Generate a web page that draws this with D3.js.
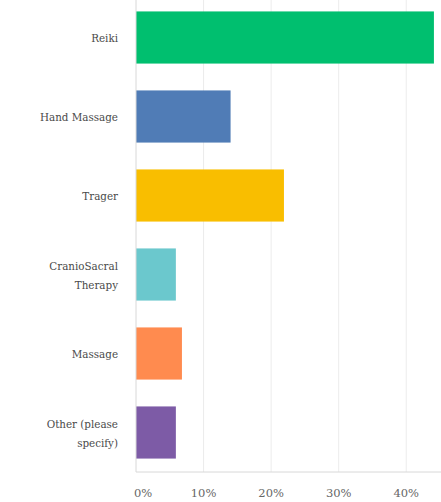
<!DOCTYPE html>
<html>
<head>
<meta charset="utf-8">
<script src="https://cdn.jsdelivr.net/npm/d3@7"></script>
<style>
  body { margin: 0; background: #fff; }
</style>
</head>
<body>
<div id="chart"></div>
<script>
var categories = ["Reiki", "Hand Massage", "Trager", "CranioSacral Therapy", "Massage", "Other (please specify)"];
var labelLines = [["Reiki"], ["Hand Massage"], ["Trager"], ["CranioSacral", "Therapy"], ["Massage"], ["Other (please", "specify)"]];
var values = [44.1, 14.0, 21.9, 5.9, 6.8, 5.9];
var colors = ["#00bf6f", "#507cb6", "#f9be00", "#6bc8cd", "#ff8b4f", "#7d5ba6"];
var ticks = [0, 10, 20, 30, 40];

var serifCond = "'DejaVu Serif Condensed', 'DejaVu Serif'";
var serif = "'DejaVu Serif'";
var w = 441, h = 502;
var svg = d3.select("#chart").append("svg").attr("width", w).attr("height", h);

var x = d3.scaleLinear().domain([0, 45]).range([136, 440]);
var y = d3.scaleBand().domain(categories).range([-2, 472]).paddingInner(0.34).paddingOuter(0.17);

// grid lines
svg.append("g").selectAll("line")
  .data(ticks.slice(1))
  .enter().append("line")
  .attr("x1", function(d) { return x(d); })
  .attr("x2", function(d) { return x(d); })
  .attr("y1", 0)
  .attr("y2", 472)
  .attr("stroke", "#ececec")
  .attr("stroke-width", 1);

// bars
svg.append("g").selectAll("rect")
  .data(values)
  .enter().append("rect")
  .attr("x", x(0))
  .attr("y", function(d, i) { return y(categories[i]); })
  .attr("width", function(d) { return x(d) - x(0); })
  .attr("height", y.bandwidth())
  .attr("fill", function(d, i) { return colors[i]; });

// axis lines
svg.append("line")
  .attr("x1", x(0)).attr("x2", x(0))
  .attr("y1", 0).attr("y2", 472)
  .attr("stroke", "#d8d8d8");
svg.append("line")
  .attr("x1", x(0)).attr("x2", w)
  .attr("y1", 472).attr("y2", 472)
  .attr("stroke", "#d8d8d8");

// category labels
var lab = svg.append("g").selectAll("text")
  .data(categories)
  .enter().append("text")
  .attr("text-anchor", "end")
  .attr("fill", "#4a4a4a")
  .attr("font-family", serifCond)
  .attr("font-stretch", "condensed")
  .attr("font-size", 11.5)
  .attr("x", 118)
  .attr("y", function(d) { return y(d) + y.bandwidth() / 2; });

lab.each(function(d, i) {
  var lines = labelLines[i];
  var t = d3.select(this);
  var cy = y(d) + y.bandwidth() / 2;
  lines.forEach(function(l, j) {
    t.append("tspan")
      .attr("x", 118)
      .attr("y", cy + 4 - (lines.length - 1) * 9 + j * 19)
      .text(l);
  });
});

// x tick labels
svg.append("g").selectAll("text")
  .data(ticks)
  .enter().append("text")
  .attr("x", function(d) { return x(d) + (d === 0 ? 7 : 0); })
  .attr("y", 497)
  .attr("text-anchor", "middle")
  .attr("fill", "#666")
  .attr("font-family", serif)
  .attr("font-size", 11.5)
  .text(function(d) { return d + "%"; });
</script>
</body>
</html>
